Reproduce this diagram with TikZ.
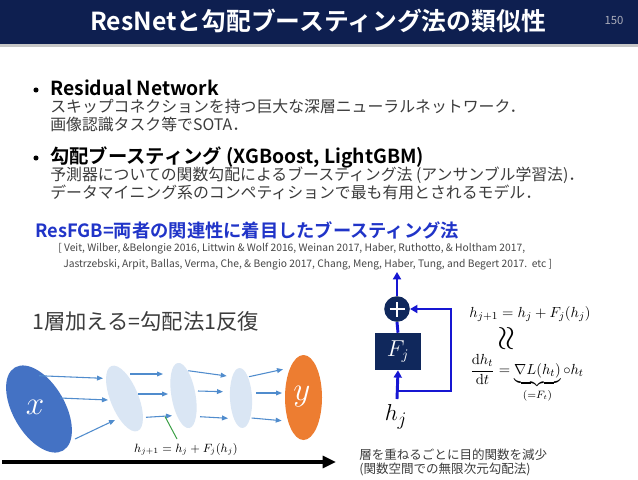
\documentclass[tikz,border=0pt]{standalone}
\usepackage[no-math]{fontspec}
\usepackage{amsmath}
\usepackage{graphicx}
\newfontfamily\jp{Noto Sans CJK JP}[BoldFont={Noto Sans CJK JP Bold}]
\usetikzlibrary{arrows.meta,shapes.geometric,calc}
\definecolor{navy}{RGB}{14,31,80}
\definecolor{boxnavy}{RGB}{16,40,92}
\definecolor{vblue}{RGB}{22,22,210}
\definecolor{resblue}{RGB}{32,52,200}
\definecolor{exblue}{RGB}{68,114,196}
\definecolor{lightell}{RGB}{218,230,244}
\definecolor{yorange}{RGB}{237,125,49}
\definecolor{arrblue}{RGB}{80,140,205}
\definecolor{bodycol}{RGB}{60,60,60}
\definecolor{citegray}{RGB}{70,70,70}
\definecolor{pggray}{RGB}{170,172,185}
\definecolor{grline}{RGB}{60,160,70}
\begin{document}
\begin{tikzpicture}[x=0.75pt,y=0.75pt,
  bodytxt/.style={inner sep=0pt, anchor=base west, font=\jp\fontsize{11.9}{14}\selectfont, text=bodycol},
  headtxt/.style={inner sep=0pt, anchor=base west, font=\jp\bfseries\fontsize{14.5}{17}\selectfont, text=black},
  citetxt/.style={inner sep=0pt, anchor=base west, font=\jp\fontsize{7.7}{9}\selectfont, text=citegray},
  bdot/.style={circle, fill=black, inner sep=0pt, minimum size=3.8pt},
  ell/.style={ellipse, inner sep=0pt, draw=none},
  thinarr/.style={draw=arrblue, line width=0.8pt, -{Triangle[length=4.5pt,width=3.6pt]}},
  bline/.style={draw=vblue, line width=2.2pt},
  barr/.style={bline, -{Triangle[length=5.5pt,width=6pt]}},
]
\useasboundingbox (0,0) rectangle (638,-479);
\fill[white] (0,0) rectangle (638,-479);
% title bar
\fill[navy] (0,0) rectangle (638,-44);
\fill[gray!45] (0,-44) rectangle (638,-46.5);
\node[inner sep=0pt, text=white, font=\jp\bfseries\fontsize{18.6}{22}\selectfont] (title) at (318,-21) {ResNetと勾配ブースティング法の類似性};
\node[inner sep=0pt, text=pggray, font=\jp\fontsize{8.5}{10}\selectfont] (pg) at (614,-20) {150};
% bullets
\node[bdot] (d1) at (36,-90) {};
\node[headtxt] (h1) at (50,-95) {Residual Network};
\node[bodytxt] (l1) at (50,-112) {スキップコネクションを持つ巨大な深層ニューラルネットワーク．};
\node[bodytxt] (l2) at (50,-130) {画像認識タスク等でSOTA．};
\node[bdot] (d2) at (36,-158) {};
\node[headtxt] (h2) at (50,-163) {勾配ブースティング (XGBoost, LightGBM)};
\node[bodytxt] (l3) at (50,-180) {予測器についての関数勾配によるブースティング法 (アンサンブル学習法)．};
\node[bodytxt] (l4) at (50,-198) {データマイニング系のコンペティションで最も有用とされるモデル．};
\node[inner sep=0pt, anchor=base west, font=\jp\bfseries\fontsize{13.7}{16}\selectfont, text=resblue] (rf) at (35,-237) {ResFGB=両者の関連性に着目したブースティング法};
\node[citetxt] (c1) at (58,-251.5) {[ Veit, Wilber, \&Belongie 2016, Littwin \& Wolf 2016, Weinan 2017, Haber, Ruthotto, \& Holtham 2017,};
\node[citetxt] (c2) at (63,-267.5) {Jastrzebski, Arpit, Ballas, Verma, Che, \& Bengio 2017, Chang, Meng, Haber, Tung, and Begert 2017.\ \ etc ]};
% left diagram
\node[inner sep=0pt, anchor=base west, font=\jp\fontsize{16}{18}\selectfont, text=bodycol] (it) at (32,-329) {1層加える=勾配法1反復};
\node[ell, fill=exblue, minimum width=39pt, minimum height=72pt, rotate=30] (ex) at (39,-409) {};
\node[ell, fill=lightell, minimum width=21pt, minimum height=52.5pt, rotate=22] (e2) at (124.5,-398.5) {};
\node[ell, fill=lightell, minimum width=18pt, minimum height=49.5pt, rotate=10] (e3) at (183.5,-395.5) {};
\node[ell, fill=lightell, minimum width=16.5pt, minimum height=45pt, rotate=3] (e4) at (241,-398) {};
\node[ell, fill=yorange, minimum width=27.75pt, minimum height=63.75pt] (ey) at (303.5,-397.5) {};
\node[inner sep=0pt, text=white, font=\fontsize{30}{30}\selectfont] (lx) at (35,-407) {$x$};
\node[inner sep=0pt, text=white, font=\fontsize{30}{30}\selectfont] (lyy) at (302,-397) {$y$};
% arrow end points
\coordinate (a1s) at (39,-375.7);  \coordinate (a1e) at (103,-378.3);
\coordinate (a2s) at (60,-398);    \coordinate (a2e) at (108,-400);
\coordinate (a3s) at (75,-439);    \coordinate (a3e) at (115,-420);
\coordinate (b1s) at (130,-374);   \coordinate (b1e) at (163,-374);
\coordinate (b2s) at (138,-394);   \coordinate (b2e) at (168,-394);
\coordinate (b3s) at (146,-417.3); \coordinate (b3e) at (172,-415.7);
\coordinate (c1s) at (188.3,-370.7); \coordinate (c1e) at (226.7,-376);
\coordinate (c2s) at (198,-391);   \coordinate (c2e) at (223,-391.7);
\coordinate (c3s) at (200,-416.7); \coordinate (c3e) at (228,-418.3);
\coordinate (g1s) at (249,-376.7); \coordinate (g1e) at (283,-369.3);
\coordinate (g2s) at (256,-393);   \coordinate (g2e) at (282,-393);
\coordinate (g3s) at (251.7,-418); \coordinate (g3e) at (281.7,-420.7);
\foreach \p in {a1,a2,a3,b1,b2,b3,c1,c2,c3,g1,g2,g3}
  \draw[thinarr] (\p s) -- (\p e);
\node[inner sep=1pt, font=\fontsize{9}{10}\selectfont] (eqL) at (186,-449) {$h_{j+1}=h_j+F_j(h_j)$};
\coordinate (gr1) at (165,-416.5);
\coordinate (gr2) at (177,-439);
\draw[grline, line width=0.75pt] (gr1) -- (gr2);
\coordinate (axS) at (2,-462);
\coordinate (axE) at (336,-462);
\draw[line width=2.3pt, -{Triangle[length=10pt,width=9pt]}] (axS) -- (axE);
% right diagram
\node[circle, fill=boxnavy, minimum size=19.2pt, inner sep=0pt] (plus) at (397,-309) {};
\draw[white, line width=1.5pt] ($(plus.center)+(-7.5,0)$) -- ($(plus.center)+(7.5,0)$);
\draw[white, line width=1.5pt] ($(plus.center)+(0,-7.5)$) -- ($(plus.center)+(0,7.5)$);
\node[rectangle, fill=boxnavy, minimum width=34.5pt, minimum height=27.75pt, inner sep=0pt, text=white, font=\fontsize{16}{16}\selectfont] (Fj) at (398,-351.5) {$F_j$};
\node[inner sep=0pt, font=\fontsize{19}{20}\selectfont] (hj) at (396,-417) {$h_j$};
\coordinate (out) at (397,-272);
\coordinate (hst) at (397,-399);
\coordinate (spl) at (397,-391);
\coordinate (cbr) at (451,-391);
\coordinate (ctr) at (451,-309);
\draw[barr] (hst) -- (Fj.south);
\draw[bline] (Fj.north) -- (plus.south);
\draw[barr] (plus.north) -- (out);
\draw[barr] (spl) -- (cbr) -- (ctr) -- (plus.east);
\node[inner sep=0pt, anchor=base, font=\fontsize{11}{13}\selectfont] (eq1) at (530,-317) {$h_{j+1}=h_j+F_j(h_j)$};
\node[inner sep=0pt, font=\fontsize{24}{24}\selectfont] (wr) at (507,-339) {\rotatebox{90}{$\approx$}};
\node[inner sep=0pt, anchor=base west, font=\fontsize{11}{13}\selectfont] (eq2) at (470,-374.5) {$\dfrac{\mathrm{d}h_t}{\mathrm{d}t}=\underbrace{\nabla L(h_t)}_{(=F_t)}\circ h_t$};
\node[inner sep=0pt, anchor=base west, font=\jp\fontsize{9.4}{11}\selectfont, text=bodycol] (n1) at (359,-459) {層を重ねるごとに目的関数を減少};
\node[inner sep=0pt, anchor=base west, font=\jp\fontsize{9.4}{11}\selectfont, text=bodycol] (n2) at (359,-473) {(関数空間での無限次元勾配法)};
\end{tikzpicture}
\end{document}
